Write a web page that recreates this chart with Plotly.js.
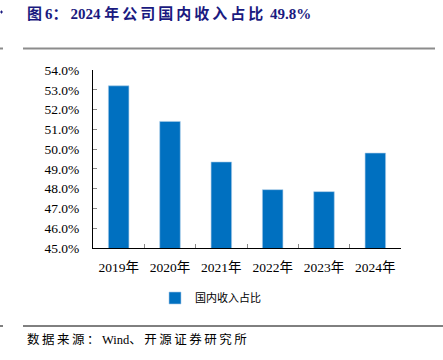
<!DOCTYPE html>
<html>
<head>
<meta charset="utf-8">
<script src="https://cdn.plot.ly/plotly-3.0.1.min.js"></script>
<style>html,body{margin:0;padding:0;background:#fff;}#chart{width:443px;height:360px;}</style>
</head>
<body>
<div id="chart"></div>
<script>
const categories = ["2019年","2020年","2021年","2022年","2023年","2024年"];
const domesticShare = [53.2, 51.4, 49.35, 47.95, 47.85, 49.8];
const seriesName = "国内收入占比";
const yTickVals = [45,46,47,48,49,50,51,52,53,54];
const yTickText = ["45.0%","46.0%","47.0%","48.0%","49.0%","50.0%","51.0%","52.0%","53.0%","54.0%"];
const titleText = "图6：2024 年公司国内收入占比 49.8%";
const sourceText = "数据来源：Wind、开源证券研究所";

const W = 443, H = 360;
const L = 93, R = 42, T = 70, B = 112;
const pw = W - L - R, ph = H - T - B;
const px = x => (x - L) / pw;
const py = y => (H - B - y) / ph;

// widen spacing after CJK characters (display only)
const spaced = (s, sp) => s.replace(/([\u3000-\u9fff\uff00-\uffef])/g, "$1" + sp);

const serif = "Liberation Serif, Times New Roman, Noto Sans CJK SC, serif";

const data = [{
  type: "bar",
  x: categories,
  y: domesticShare,
  name: seriesName,
  marker: {color: "#0070C0", line: {color: "#a9cbe8", width: 0.6}},
  width: 0.4,
  showlegend: true
}];

const layout = {
  width: W, height: H,
  margin: {l: L, r: R, t: T, b: B, pad: 0},
  paper_bgcolor: "#fff", plot_bgcolor: "#fff",
  xaxis: {
    type: "category",
    showline: true, linecolor: "#000", linewidth: 1,
    ticks: "inside", ticklen: 4, tickcolor: "#888", tickwidth: 1,
    tickson: "boundaries",
    showgrid: false, zeroline: false,
    tickfont: {family: serif, size: 13.5, color: "#000"},
    ticklabelstandoff: 7,
    fixedrange: true
  },
  yaxis: {
    range: [45, 54],
    tickvals: yTickVals, ticktext: yTickText,
    showline: true, linecolor: "#000", linewidth: 1,
    ticks: "inside", ticklen: 4, tickcolor: "#888", tickwidth: 1,
    showgrid: false, zeroline: false,
    tickfont: {family: serif, size: 13.5, color: "#000"},
    ticklabelstandoff: 10,
    fixedrange: true
  },
  legend: {
    orientation: "h",
    x: px(155), xanchor: "left",
    y: py(298), yanchor: "middle",
    font: {family: serif, size: 11, color: "#000"},
    itemwidth: 30,
    bgcolor: "rgba(0,0,0,0)"
  },
  annotations: [
    {text: "<b>" + spaced(titleText, "\u2009") + "</b>", xref: "paper", yref: "paper",
     x: px(25), y: py(14), xanchor: "left", yanchor: "middle", showarrow: false,
     font: {family: serif, size: 15, color: "#1a1a80"}},
    {text: spaced(sourceText, "\u2009"), xref: "paper", yref: "paper",
     x: px(25), y: py(339), xanchor: "left", yanchor: "middle", showarrow: false,
     font: {family: serif, size: 12.5, color: "#000"}}
  ],
  shapes: [
    {type: "line", xref: "paper", yref: "paper", x0: px(23), x1: px(435), y0: py(48.5), y1: py(48.5),
     line: {color: "#8c8c8c", width: 2}},
    {type: "line", xref: "paper", yref: "paper", x0: px(0), x1: px(3), y0: py(48.5), y1: py(48.5),
     line: {color: "#8c8c8c", width: 2}},
    {type: "line", xref: "paper", yref: "paper", x0: px(0), x1: px(3), y0: py(12), y1: py(12),
     line: {color: "#1a1a80", width: 1}},
    {type: "line", xref: "paper", yref: "paper", x0: px(1.5), x1: px(1.5), y0: py(10.5), y1: py(13.5),
     line: {color: "#1a1a80", width: 1}},
    {type: "line", xref: "paper", yref: "paper", x0: px(23), x1: px(443), y0: py(326), y1: py(326),
     line: {color: "#000", width: 1}},
    {type: "line", xref: "paper", yref: "paper", x0: px(0), x1: px(3), y0: py(326), y1: py(326),
     line: {color: "#000", width: 1}}
  ]
};

Plotly.newPlot("chart", data, layout, {displayModeBar: false, staticPlot: true});
</script>
</body>
</html>
